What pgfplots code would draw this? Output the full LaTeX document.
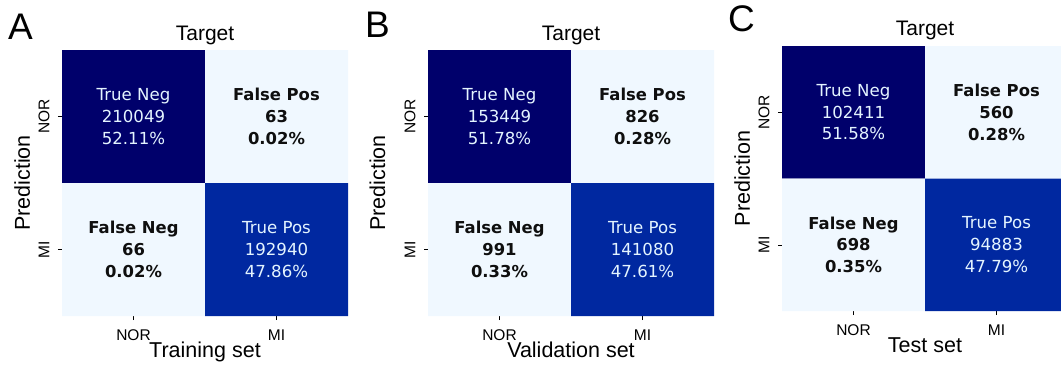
\documentclass[border=0pt]{standalone}
\usepackage{fontspec}
\setmainfont{Liberation Sans}
\newfontfamily\dejavu{DejaVu Sans}
\usepackage{pgfplots}
\pgfplotsset{compat=1.18}
\definecolor{cnavy}{RGB}{0,0,107}
\definecolor{cblue}{RGB}{0,40,160}
\definecolor{clight}{RGB}{240,248,255}
\definecolor{ctxtl}{RGB}{228,244,255}
\definecolor{ctxtd}{RGB}{15,15,15}
\newcommand{\cellfont}{\dejavu\fontsize{16.6bp}{21.7bp}\selectfont}
\newcommand{\cellfontb}{\dejavu\bfseries\fontsize{16.4bp}{21.7bp}\selectfont}
\newcommand{\cell}[3]{\addplot[draw=none, fill=#3, mark=none, forget plot] coordinates {(#1-0.5,#2-0.5) (#1+0.5,#2-0.5) (#1+0.5,#2+0.5) (#1-0.5,#2+0.5) (#1-0.5,#2-0.5)};}
\tikzset{tgt/.style={anchor=base, font=\fontsize{21bp}{24bp}\selectfont}}
\pgfplotsset{
  cm/.style={
    scale only axis, width=286bp, height=266bp, anchor=south west,
    xmin=-0.5, xmax=1.5, ymin=-0.5, ymax=1.5, y dir=reverse,
    axis line style={draw=none},
    xtick={0,1}, ytick={0,1}, xticklabels={NOR,MI}, yticklabels={NOR,MI},
    xtick pos=bottom, ytick pos=left, tick align=outside,
    major tick length=4bp, tick style={black, line width=0.5bp},
    ticklabel style={font=\fontsize{15.5bp}{17bp}\selectfont},
    xticklabel style={yshift=-6bp},
    yticklabel style={rotate=90, anchor=south},
    yticklabel shift=5bp,
    label style={font=\fontsize{21.5bp}{24bp}\selectfont},
    xlabel style={at={(axis description cs:0.5,0)}, anchor=base, yshift=-41bp},
    clip=false,
  },
}
\begin{document}
\begin{tikzpicture}
\useasboundingbox (0,0) rectangle (1061bp,368bp);
\node[anchor=base west, inner sep=0pt, font=\fontsize{37bp}{40bp}\selectfont] at (8bp,328bp) {A};
\node[anchor=base west, inner sep=0pt, font=\fontsize{37bp}{40bp}\selectfont] at (365bp,330bp) {B};
\node[anchor=base west, inner sep=0pt, font=\fontsize{37bp}{40bp}\selectfont] at (728bp,336bp) {C};
% Panel A
\begin{axis}[cm, at={(62bp,52bp)},
  xlabel={Training set}, ylabel={Prediction},
  ylabel style={at={(axis description cs:-0.112,0.5)}, anchor=base, rotate=0}]
\cell{0}{0}{cnavy}
\cell{1}{0}{clight}
\cell{0}{1}{clight}
\cell{1}{1}{cblue}
\node[tgt] at (axis description cs:0.5,1.034) {Target};
\node[align=center, text=ctxtl, font=\cellfont] at (axis cs:0,0) {True Neg\\210049\\52.11\%};
\node[align=center, text=ctxtd, font=\cellfontb] at (axis cs:1,0) {False Pos\\63\\0.02\%};
\node[align=center, text=ctxtd, font=\cellfontb] at (axis cs:0,1) {False Neg\\66\\0.02\%};
\node[align=center, text=ctxtl, font=\cellfont] at (axis cs:1,1) {True Pos\\192940\\47.86\%};
\end{axis}
% Panel B
\begin{axis}[cm, at={(428bp,52bp)},
  xlabel={Validation set}, ylabel={Prediction},
  ylabel style={at={(axis description cs:-0.150,0.5)}, anchor=base, rotate=0}]
\cell{0}{0}{cnavy}
\cell{1}{0}{clight}
\cell{0}{1}{clight}
\cell{1}{1}{cblue}
\node[tgt] at (axis description cs:0.5,1.034) {Target};
\node[align=center, text=ctxtl, font=\cellfont] at (axis cs:0,0) {True Neg\\153449\\51.78\%};
\node[align=center, text=ctxtd, font=\cellfontb] at (axis cs:1,0) {False Pos\\826\\0.28\%};
\node[align=center, text=ctxtd, font=\cellfontb] at (axis cs:0,1) {False Neg\\991\\0.33\%};
\node[align=center, text=ctxtl, font=\cellfont] at (axis cs:1,1) {True Pos\\141080\\47.61\%};
\end{axis}
% Panel C
\begin{axis}[cm, at={(782bp,57bp)}, height=265bp,
  xlabel={Test set}, ylabel={Prediction},
  ylabel style={at={(axis description cs:-0.112,0.5)}, anchor=base, rotate=0}]
\cell{0}{0}{cnavy}
\cell{1}{0}{clight}
\cell{0}{1}{clight}
\cell{1}{1}{cblue}
\node[tgt] at (axis description cs:0.5,1.0415) {Target};
\node[align=center, text=ctxtl, font=\cellfont] at (axis cs:0,0) {True Neg\\102411\\51.58\%};
\node[align=center, text=ctxtd, font=\cellfontb] at (axis cs:1,0) {False Pos\\560\\0.28\%};
\node[align=center, text=ctxtd, font=\cellfontb] at (axis cs:0,1) {False Neg\\698\\0.35\%};
\node[align=center, text=ctxtl, font=\cellfont] at (axis cs:1,1) {True Pos\\94883\\47.79\%};
\end{axis}
\end{tikzpicture}
\end{document}
